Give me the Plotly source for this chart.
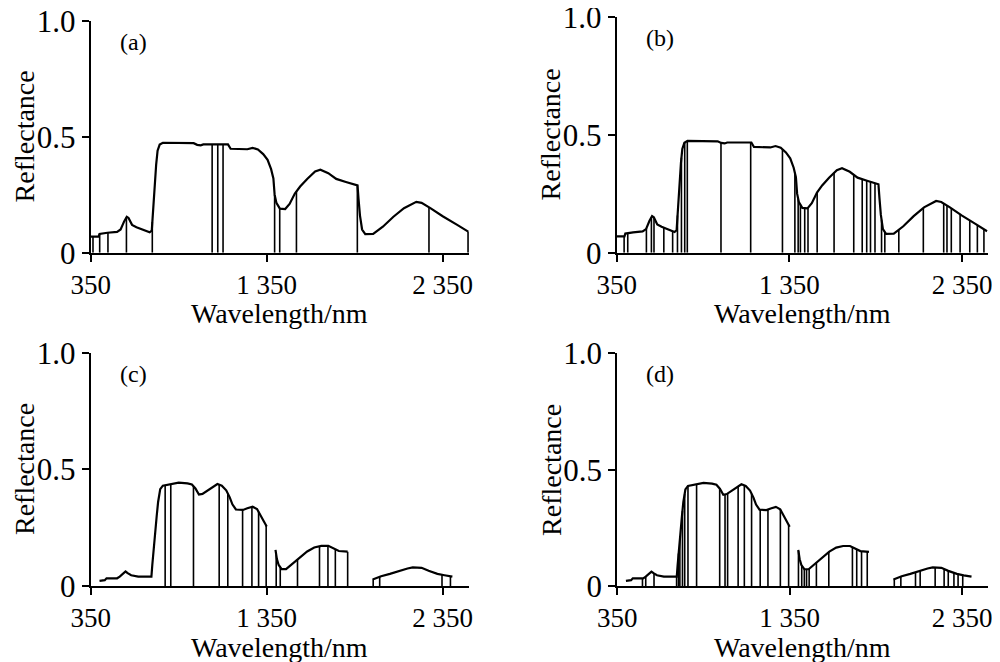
import numpy as np
import plotly.graph_objects as go

# ---- Spectrum used in panels (a) and (b) ----
wl_full = [350, 365, 395, 400, 440, 445, 500, 520, 540, 555, 565, 585, 610, 650, 685, 697,
           703, 708, 715, 722, 730, 742, 760, 900, 935, 955, 975, 990, 1130, 1145, 1240,
           1270, 1300, 1330, 1355, 1375, 1388, 1395, 1405, 1425, 1455, 1480, 1510, 1540,
           1580, 1625, 1655, 1700, 1745, 1800, 1848, 1866, 1872, 1880, 1892, 1910, 1955,
           2010, 2070, 2130, 2200, 2230, 2280, 2350, 2430, 2495]
refl_full = [0.069, 0.069, 0.069, 0.081, 0.083, 0.086, 0.090, 0.100, 0.135, 0.155, 0.150,
             0.120, 0.110, 0.100, 0.088, 0.095, 0.170, 0.235, 0.310, 0.380, 0.440, 0.466,
             0.474, 0.474, 0.472, 0.465, 0.463, 0.467, 0.467, 0.448, 0.446, 0.452, 0.445,
             0.425, 0.400, 0.360, 0.320, 0.250, 0.215, 0.190, 0.188, 0.210, 0.255, 0.285,
             0.318, 0.350, 0.358, 0.343, 0.318, 0.305, 0.295, 0.290, 0.230, 0.160, 0.100,
             0.080, 0.081, 0.112, 0.155, 0.192, 0.219, 0.215, 0.192, 0.157, 0.121, 0.091]

# ---- Spectrum used in panels (c) and (d): three segments (water bands removed) ----
wl_seg1 = [400, 430, 440, 500, 515, 535, 548, 560, 580, 620, 695, 700, 706, 712, 718, 725,
           733, 745, 760, 800, 850, 900, 925, 945, 965, 985, 1010, 1040, 1070, 1095, 1120,
           1140, 1155, 1175, 1215, 1240, 1270, 1295, 1315, 1335, 1350]
refl_seg1 = [0.022, 0.025, 0.033, 0.033, 0.040, 0.055, 0.062, 0.055, 0.046, 0.040, 0.040,
             0.090, 0.150, 0.200, 0.240, 0.300, 0.360, 0.415, 0.430, 0.437, 0.443, 0.440,
             0.435, 0.418, 0.392, 0.395, 0.408, 0.425, 0.437, 0.430, 0.410, 0.380, 0.350,
             0.328, 0.326, 0.333, 0.340, 0.330, 0.305, 0.275, 0.255]
wl_seg2 = [1400, 1408, 1418, 1435, 1460, 1480, 1500, 1540, 1580, 1620, 1660, 1700, 1730,
           1760, 1810]
refl_seg2 = [0.155, 0.115, 0.090, 0.072, 0.072, 0.085, 0.098, 0.126, 0.148, 0.165, 0.172,
             0.172, 0.162, 0.150, 0.147]
wl_seg3 = [1952, 1975, 2000, 2050, 2100, 2150, 2180, 2230, 2270, 2320, 2360, 2405]
refl_seg3 = [0.028, 0.035, 0.042, 0.052, 0.065, 0.075, 0.080, 0.078, 0.065, 0.052, 0.046,
             0.040]

# ---- Selected wavelengths (vertical lines) ----
sel_a = [363, 401, 448, 553, 700, 1040, 1072, 1102, 1395, 1424, 1519, 1865, 2272, 2494]
sel_b = [393, 414, 522, 551, 566, 623, 674, 702, 725, 744, 759, 954, 1126, 1310, 1382,
         1401, 1414, 1439, 1458, 1511, 1609, 1723, 1772, 1798, 1820, 1846, 1884, 1903,
         1984, 2126, 2244, 2263, 2288, 2339, 2395, 2439, 2477]
sel_c = [773, 805, 934, 1080, 1129, 1213, 1266, 1304, 1347, 1404, 1427, 1525, 1650, 1698,
         1740, 1810, 1955, 1992, 2346, 2394]
sel_d = [496, 515, 563, 694, 705, 713, 728, 741, 760, 810, 944, 975, 990, 1051, 1087,
         1129, 1179, 1224, 1296, 1344, 1401, 1420, 1435, 1448, 1463, 1505, 1577, 1714,
         1739, 1767, 1800, 1957, 1995, 2080, 2107, 2194, 2246, 2270, 2303, 2327, 2354]

panel_labels = ["(a)", "(b)", "(c)", "(d)"]
x_tickvals = [350, 1350, 2350]
x_ticktext = ["350", "1 350", "2 350"]
y_tickvals = [0, 0.5, 1.0]
y_ticktext = ["0", "0.5", "1.0"]
x_title = "Wavelength/nm"
y_title = "Reflectance"

segs_full = [(wl_full, refl_full)]
segs_cut = [(wl_seg1, refl_seg1), (wl_seg2, refl_seg2), (wl_seg3, refl_seg3)]


def value_at(w, segs):
    best = None
    for ws, rs in segs:
        if ws[0] <= w <= ws[-1]:
            return float(np.interp(w, ws, rs))
        d = min(abs(w - ws[0]), abs(w - ws[-1]))
        v = rs[0] if abs(w - ws[0]) < abs(w - ws[-1]) else rs[-1]
        if best is None or d < best[0]:
            best = (d, v)
    return best[1]


def joined(segs):
    xs, ys = [], []
    for i, (ws, rs) in enumerate(segs):
        if i:
            xs.append(None)
            ys.append(None)
        xs += list(ws)
        ys += list(rs)
    return xs, ys


# the page body has an 8px margin; figure is sized to fit the window
OFF = 8
W, H = 1000 - 2 * OFF, 662 - OFF


def fx(p):  # page px -> paper fraction (x)
    return min(1.0, max(0.0, (p - OFF) / W))


def fy(p):  # page px -> paper fraction (y)
    return min(1.0, max(0.0, (H - (p - OFF)) / H))


# pixel boxes in page coordinates: (left, right, top, bottom)
boxes = [(90.7, 469.1, 20.7, 252.7),
         (616.7, 987.9, 16.7, 252.7),
         (90.7, 469.1, 352.7, 586.0),
         (617.3, 987.9, 353.3, 586.0)]
panel_segs = [segs_full, segs_full, segs_cut, segs_cut]
panel_sel = [sel_a, sel_b, sel_c, sel_d]

FONT = "Liberation Serif, Times New Roman, serif"
fig = go.Figure()
layout = dict(width=W, height=H, margin=dict(l=0, r=0, t=0, b=0, autoexpand=False),
              paper_bgcolor="white", plot_bgcolor="white", showlegend=False,
              template="none",
              font=dict(family=FONT, color="black", size=27))
annotations = []

for i in range(4):
    n = "" if i == 0 else str(i + 1)
    xa, ya = "x" + n, "y" + n
    l, r, t, b = boxes[i]
    segs = panel_segs[i]
    cx, cy = joined(segs)
    fig.add_trace(go.Scatter(x=cx, y=cy, mode="lines", xaxis=xa, yaxis=ya,
                             line=dict(color="black", width=2.2), hoverinfo="skip"))
    vx, vy = [], []
    for w in panel_sel[i]:
        vx += [w, w, None]
        vy += [0, value_at(w, segs), None]
    fig.add_trace(go.Scatter(x=vx, y=vy, mode="lines", xaxis=xa, yaxis=ya,
                             line=dict(color="black", width=1.6), hoverinfo="skip"))
    common = dict(showline=True, linewidth=2, linecolor="black", ticks="outside",
                  ticklen=7, tickwidth=2, tickcolor="black", showgrid=False,
                  zeroline=False, automargin=False, ticklabeloverflow="allow")
    layout["xaxis" + n] = dict(domain=[fx(l), fx(r)], range=[350, 2500], anchor=ya,
                               tickvals=x_tickvals, ticktext=x_ticktext,
                               tickfont=dict(family=FONT, size=27, color="black"),
                               **common)
    layout["yaxis" + n] = dict(domain=[fy(b), fy(t)], range=[0, 1.0],
                               anchor=xa, tickvals=y_tickvals, ticktext=y_ticktext,
                               tickfont=dict(family=FONT, size=31, color="black"),
                               **common)
    # axis titles
    annotations.append(dict(text=y_title, x=fx(l - 66), y=fy((t + b) / 2),
                            xref="paper", yref="paper", textangle=-90, showarrow=False,
                            xanchor="center", yanchor="middle",
                            font=dict(family=FONT, size=28, color="black")))
    annotations.append(dict(text=x_title, x=fx((l + r) / 2), y=fy(b + 61),
                            xref="paper", yref="paper", showarrow=False,
                            xanchor="center", yanchor="middle",
                            font=dict(family=FONT, size=28, color="black")))
    annotations.append(dict(text=panel_labels[i], x=fx(l + 43), y=fy(t + 21),
                            xref="paper", yref="paper", showarrow=False,
                            xanchor="center", yanchor="middle",
                            font=dict(family=FONT, size=24, color="black")))

layout["annotations"] = annotations
fig.update_layout(**layout)
fig.write_html("out.html")
